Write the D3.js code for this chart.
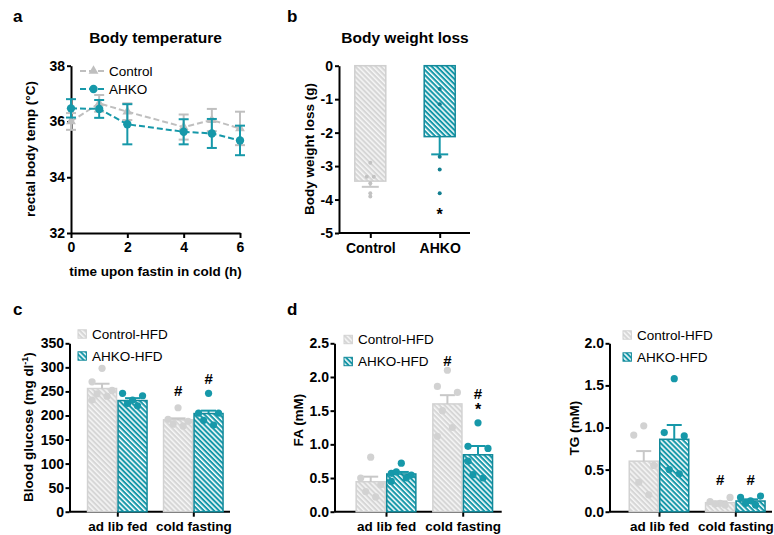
<!DOCTYPE html>
<html><head><meta charset="utf-8">
<script src="https://cdn.jsdelivr.net/npm/d3@7"></script>
<style>
body{margin:0;background:#fff}
svg{display:block}
text{font-family:"Liberation Sans",Arial,Helvetica,sans-serif}
</style>
</head><body>
<svg id="chart" width="774" height="535"></svg>
<script>
// ---------------- DATA ----------------
// a: body temperature
const timeHours = [0, 1, 2, 4, 5, 6];
const tempControlMean = [36.0, 36.65, 36.35, 35.8, 36.05, 35.75];
const tempControlSem  = [0.3, 0.3, 0.3, 0.45, 0.4, 0.6];
const tempAHKOMean    = [36.47, 36.45, 35.9, 35.63, 35.57, 35.32];
const tempAHKOSem     = [0.33, 0.32, 0.72, 0.45, 0.52, 0.53];
const tempTicksY = [32, 34, 36, 38];
const tempTicksX = [0, 2, 4, 6];

// b: body weight loss
const weightGroups = ["Control", "AHKO"];
const weightMean = [-3.45, -2.12];
const weightSem  = [0.17, 0.53];
const weightControlPts = [-2.9, -3.32, -3.32, -3.51, -3.81, -3.91];
const weightAHKOPts    = [-0.7, -1.15, -2.72, -3.1, -3.81];
const weightTicksY = [0, -1, -2, -3, -4, -5];
const weightStarAt = -4.33;

// c/d/e shared
const conditions = ["ad lib fed", "cold fasting"];
const seriesNames = ["Control-HFD", "AHKO-HFD"];

// c: blood glucose
const glucoseControlMean = [256, 191];
const glucoseControlSem  = [10, 3];
const glucoseAHKOMean    = [231, 204];
const glucoseAHKOSem     = [5, 6];
const glucoseControlPts = [[298, 270, 252, 245, 240, 232], [216, 192, 188, 182, 178]];
const glucoseAHKOPts    = [[232, 246, 241, 225, 220], [246, 205, 205, 190, 180]];
const glucoseTicks = [0, 50, 100, 150, 200, 250, 300, 350];
const glucoseMarks = [
  {cond: "cold fasting", series: 0, label: "#", at: 251},
  {cond: "cold fasting", series: 1, label: "#", at: 277}
];

// d: fatty acids
const faControlMean = [0.445, 1.6];
const faControlSem  = [0.075, 0.13];
const faAHKOMean    = [0.56, 0.845];
const faAHKOSem     = [0.03, 0.13];
const faControlPts = [[0.81, 0.5, 0.4, 0.3, 0.22], [2.1, 1.86, 1.77, 1.5, 1.25, 1.12]];
const faAHKOPts    = [[0.72, 0.57, 0.545, 0.59, 0.5, 0.45], [1.32, 0.97, 0.94, 0.55, 0.5, 0.75]];
const faTicks = [0, 0.5, 1.0, 1.5, 2.0, 2.5];
const faMarks = [
  {cond: "cold fasting", series: 0, label: "#", at: 2.24},
  {cond: "cold fasting", series: 1, label: "#", at: 1.76},
  {cond: "cold fasting", series: 1, label: "*", at: 1.57}
];

// e: triglycerides
const tgControlMean = [0.6, 0.107];
const tgControlSem  = [0.12, 0.015];
const tgAHKOMean    = [0.86, 0.127];
const tgAHKOSem     = [0.17, 0.02];
const tgControlPts = [[1.02, 0.91, 0.55, 0.35, 0.2], [0.1, 0.12, 0.17, 0.09, 0.08]];
const tgAHKOPts    = [[1.58, 0.94, 0.9, 0.5, 0.45], [0.13, 0.17, 0.186, 0.1, 0.08]];
const tgTicks = [0, 0.5, 1.0, 1.5, 2.0];
const tgMarks = [
  {cond: "cold fasting", series: 0, label: "#", at: 0.376},
  {cond: "cold fasting", series: 1, label: "#", at: 0.376}
];

// ---------------- STYLE ----------------
const TEAL = "#1698a9", TEAL_D = "#12899a", TEAL_DOT = "#137f90";
const GRAY_ERR = "#c8c8c8", GRAY_LINE = "#bfbfbf", GRAY_DOT = "#d2d2d2";
const jitter = [0, -10, 10, -5, 5, -10, 10];

const svg = d3.select("#chart");
const defs = svg.append("defs");
function hatch(id, bg, stripe, period, w) {
  const p = defs.append("pattern").attr("id", id).attr("patternUnits", "userSpaceOnUse")
    .attr("width", period).attr("height", period).attr("patternTransform", "rotate(-45)");
  p.append("rect").attr("width", period).attr("height", period).attr("fill", bg);
  p.append("rect").attr("width", w).attr("height", period).attr("fill", stripe);
}
hatch("hGray", "#d6d6d6", "#f6f6f6", 3.6, 1.5);
hatch("hTeal", TEAL, "#ffffff", 3.6, 1.5);

function styleAxis(g, fs) {
  g.select(".domain").attr("stroke", "#000").attr("stroke-width", 2);
  g.selectAll(".tick line").attr("stroke", "#000").attr("stroke-width", 2);
  g.selectAll(".tick text").attr("fill", "#000").attr("font-size", fs || 14)
    .attr("font-weight", "bold").style("font-family", '"Liberation Sans",Arial,sans-serif');
}
function label(x, y, txt, opts) {
  return svg.append("text").attr("x", x).attr("y", y).text(txt)
    .attr("font-size", opts.size).attr("font-weight", opts.bold ? "bold" : "normal")
    .attr("text-anchor", opts.anchor || "start").attr("fill", "#000");
}
function yTitle(x, y, txt, size) {
  return svg.append("text").attr("transform", `translate(${x},${y}) rotate(-90)`)
    .attr("text-anchor", "middle").attr("font-size", size).attr("font-weight", "bold").text(txt);
}

// panel letters
label(13, 22, "a", {size: 17, bold: true});
label(287, 22, "b", {size: 17, bold: true});
label(13, 315, "c", {size: 17, bold: true});
label(287, 315, "d", {size: 17, bold: true});

// ---------------- PANEL A ----------------
(function () {
  const x = d3.scaleLinear().domain([0, 6]).range([71, 240]);
  const y = d3.scaleLinear().domain([32, 38]).range([233, 65.7]);
  const gx = svg.append("g").attr("transform", "translate(0,233)")
    .call(d3.axisBottom(x).tickValues(tempTicksX).tickFormat(d3.format("d")).tickSize(5).tickSizeOuter(0).tickPadding(4));
  styleAxis(gx);
  const gy = svg.append("g").attr("transform", "translate(71,0)")
    .call(d3.axisLeft(y).tickValues(tempTicksY).tickFormat(d3.format("d")).tickSize(4).tickSizeOuter(0).tickPadding(2));
  styleAxis(gy);

  const series = [
    {mean: tempControlMean, sem: tempControlSem, color: GRAY_LINE, sym: d3.symbolTriangle, size: 42},
    {mean: tempAHKOMean, sem: tempAHKOSem, color: TEAL, sym: d3.symbolCircle, size: 55}
  ];
  const line = d3.line();
  series.forEach(s => {
    const pts = timeHours.map((t, i) => [x(t), y(s.mean[i])]);
    svg.append("path").attr("d", line(pts)).attr("fill", "none").attr("stroke", s.color)
      .attr("stroke-width", 2).attr("stroke-dasharray", "6,3");
    const g = svg.append("g");
    timeHours.forEach((t, i) => {
      const cx = x(t), y1 = y(s.mean[i] + s.sem[i]), y0 = y(s.mean[i] - s.sem[i]);
      g.append("line").attr("x1", cx).attr("x2", cx).attr("y1", y0).attr("y2", y1).attr("stroke", s.color).attr("stroke-width", 2);
      [y0, y1].forEach(yy => g.append("line").attr("x1", cx - 5).attr("x2", cx + 5).attr("y1", yy).attr("y2", yy).attr("stroke", s.color).attr("stroke-width", 2));
      g.append("path").attr("d", d3.symbol().type(s.sym).size(s.size)()).attr("transform", `translate(${cx},${y(s.mean[i])})`).attr("fill", s.color);
    });
  });
  // legend
  const legendNames = ["Control", "AHKO"];
  series.forEach((s, i) => {
    const ly = 71 + i * 18;
    svg.append("line").attr("x1", 80).attr("x2", 107).attr("y1", ly).attr("y2", ly)
      .attr("stroke", s.color).attr("stroke-width", 2).attr("stroke-dasharray", "6,3");
    svg.append("path").attr("d", d3.symbol().type(s.sym).size(s.size)()).attr("transform", `translate(93.5,${ly})`).attr("fill", s.color);
    label(109, ly + 4.8, legendNames[i], {size: 13.5});
  });
  label(155.5, 43, "Body temperature", {size: 15.5, bold: true, anchor: "middle"});
  label(155.5, 276, "time upon fastin in cold (h)", {size: 13.5, bold: true, anchor: "middle"});
  yTitle(35, 149, "rectal body temp (°C)", 13.5);
})();

// ---------------- PANEL B ----------------
(function () {
  const x = d3.scalePoint().domain(weightGroups).range([370.3, 439.7]);
  const y = d3.scaleLinear().domain([-5, 0]).range([233, 65.7]);
  const bw = 31;
  const gx = svg.append("g").attr("transform", "translate(0,233)")
    .call(d3.axisBottom(x).tickSize(5).tickSizeOuter(0).tickPadding(5));
  gx.select(".domain").remove();
  styleAxis(gx);
  svg.append("line").attr("x1", 339).attr("x2", 470).attr("y1", 233).attr("y2", 233).attr("stroke", "#000").attr("stroke-width", 2);
  const gy = svg.append("g").attr("transform", "translate(339,0)")
    .call(d3.axisLeft(y).tickValues(weightTicksY).tickFormat(d => String(d)).tickSize(4).tickSizeOuter(0).tickPadding(2));
  styleAxis(gy);

  const fills = ["url(#hGray)", "url(#hTeal)"];
  const strokes = ["#cfcfcf", TEAL_D];
  const errC = [GRAY_ERR, TEAL];
  const dotC = ["#c2c2c2", TEAL_DOT];
  const ptsAll = [weightControlPts, weightAHKOPts];
  weightGroups.forEach((g, i) => {
    const cx = x(g);
    svg.append("rect").attr("x", cx - bw / 2).attr("y", y(0)).attr("width", bw)
      .attr("height", y(weightMean[i]) - y(0)).attr("fill", fills[i]).attr("stroke", strokes[i]).attr("stroke-width", 1.5);
    const ye = y(weightMean[i] - weightSem[i]);
    svg.append("line").attr("x1", cx).attr("x2", cx).attr("y1", y(weightMean[i])).attr("y2", ye).attr("stroke", errC[i]).attr("stroke-width", 2);
    svg.append("line").attr("x1", cx - 8.5).attr("x2", cx + 8.5).attr("y1", ye).attr("y2", ye).attr("stroke", errC[i]).attr("stroke-width", 2);
    const pts = ptsAll[i];
    pts.forEach((v, j) => {
      const same = pts.filter(u => u === v);
      const k = pts.slice(0, j).filter(u => u === v).length;
      const off = (k - (same.length - 1) / 2) * 7;
      svg.append("circle").attr("cx", cx + off).attr("cy", y(v)).attr("r", 2).attr("fill", dotC[i]);
    });
  });
  label(x("AHKO"), y(weightStarAt) + 9, "*", {size: 16, bold: true, anchor: "middle"});
  label(405, 43, "Body weight loss", {size: 15.5, bold: true, anchor: "middle"});
  yTitle(314, 149, "Body weight loss (g)", 13.5);
})();

// ---------------- PANELS C/D/E ----------------
function barPanel(cfg) {
  const y = d3.scaleLinear().domain(cfg.domain).range([511.7, 343.3]);
  const x = d3.scalePoint().domain(conditions).range(cfg.centers);
  const bw = cfg.barW;
  const gx = svg.append("g").attr("transform", "translate(0,511.7)")
    .call(d3.axisBottom(x).tickSize(5).tickSizeOuter(0).tickPadding(5));
  gx.select(".domain").remove();
  styleAxis(gx, 13.5);
  svg.append("line").attr("x1", cfg.axisX[0]).attr("x2", cfg.axisX[1]).attr("y1", 511.7).attr("y2", 511.7).attr("stroke", "#000").attr("stroke-width", 2);
  const gy = svg.append("g").attr("transform", `translate(${cfg.axisX[0]},0)`)
    .call(d3.axisLeft(y).tickValues(cfg.ticks).tickFormat(cfg.fmt).tickSize(4).tickSizeOuter(0).tickPadding(1.5));
  styleAxis(gy);

  const series = [
    {mean: cfg.cMean, sem: cfg.cSem, pts: cfg.cPts, fill: "url(#hGray)", stroke: "#d2d2d2", err: GRAY_ERR, dot: GRAY_DOT},
    {mean: cfg.aMean, sem: cfg.aSem, pts: cfg.aPts, fill: "url(#hTeal)", stroke: TEAL_D, err: TEAL, dot: TEAL}
  ];
  const bx = (c, s) => x(c) + (s === 0 ? -bw : 0);
  series.forEach((s, si) => {
    conditions.forEach((c, ci) => {
      svg.append("rect").attr("x", bx(c, si) + 0.75).attr("y", y(s.mean[ci])).attr("width", bw - 1.5)
        .attr("height", y(0) - y(s.mean[ci])).attr("fill", s.fill).attr("stroke", s.stroke).attr("stroke-width", 1.5);
    });
  });
  series.forEach((s, si) => {
    conditions.forEach((c, ci) => {
      const cx = bx(c, si) + bw / 2;
      const yt = y(s.mean[ci] + s.sem[ci]);
      svg.append("line").attr("x1", cx).attr("x2", cx).attr("y1", y(s.mean[ci])).attr("y2", yt).attr("stroke", s.err).attr("stroke-width", 2);
      svg.append("line").attr("x1", cx - 7.5).attr("x2", cx + 7.5).attr("y1", yt).attr("y2", yt).attr("stroke", s.err).attr("stroke-width", 2);
      s.pts[ci].forEach((v, j) => {
        svg.append("circle").attr("cx", cx + jitter[j]).attr("cy", y(v)).attr("r", 3.6).attr("fill", s.dot);
      });
    });
  });
  cfg.marks.forEach(m => {
    const cx = bx(m.cond, m.series) + bw / 2;
    const fs = m.label === "*" ? 16 : 15;
    const dy = m.label === "*" ? 0.56 * fs : 0.36 * fs;
    label(cx, y(m.at) + dy, m.label, {size: fs, bold: true, anchor: "middle"});
  });
  const icons = ["url(#hGray)", "url(#hTeal)"];
  seriesNames.forEach((n, i) => {
    const ly = cfg.legend[1] + i * 22;
    svg.append("rect").attr("x", cfg.legend[0]).attr("y", ly - 4.2).attr("width", 8.4).attr("height", 8.4)
      .attr("fill", icons[i]).attr("stroke", i ? TEAL_D : "#d2d2d2").attr("stroke-width", 1);
    label(cfg.legend[0] + 14, ly + 4.8, n, {size: 13.5});
  });
  return y;
}

barPanel({
  domain: [0, 350], ticks: glucoseTicks, fmt: d3.format("d"), centers: [117.3, 193.3], barW: 30.5,
  axisX: [69.5, 230], cMean: glucoseControlMean, cSem: glucoseControlSem, aMean: glucoseAHKOMean, aSem: glucoseAHKOSem,
  cPts: glucoseControlPts, aPts: glucoseAHKOPts, marks: glucoseMarks, legend: [78, 334]
});
(function () {
  const t = svg.append("text").attr("transform", "translate(33,427) rotate(-90)").attr("text-anchor", "middle")
    .attr("font-size", 13.5).attr("font-weight", "bold");
  t.append("tspan").text("Blood glucose (mg dl");
  t.append("tspan").attr("font-size", 9).attr("dy", -5).text("-1");
  t.append("tspan").attr("dy", 5).text(")");
})();

barPanel({
  domain: [0, 2.5], ticks: faTicks, fmt: d3.format(".1f"), centers: [386, 462.7], barW: 30.6,
  axisX: [334.5, 501.7], cMean: faControlMean, cSem: faControlSem, aMean: faAHKOMean, aSem: faAHKOSem,
  cPts: faControlPts, aPts: faAHKOPts, marks: faMarks, legend: [344, 339.5]
});
yTitle(303, 420, "FA (mM)", 13.5);

barPanel({
  domain: [0, 2.0], ticks: tgTicks, fmt: d3.format(".1f"), centers: [659, 735.3], barW: 30.5,
  axisX: [609.5, 772], cMean: tgControlMean, cSem: tgControlSem, aMean: tgAHKOMean, aSem: tgAHKOSem,
  cPts: tgControlPts, aPts: tgAHKOPts, marks: tgMarks, legend: [623, 335]
});
yTitle(579, 428, "TG (mM)", 13.5);
</script>
</body></html>
